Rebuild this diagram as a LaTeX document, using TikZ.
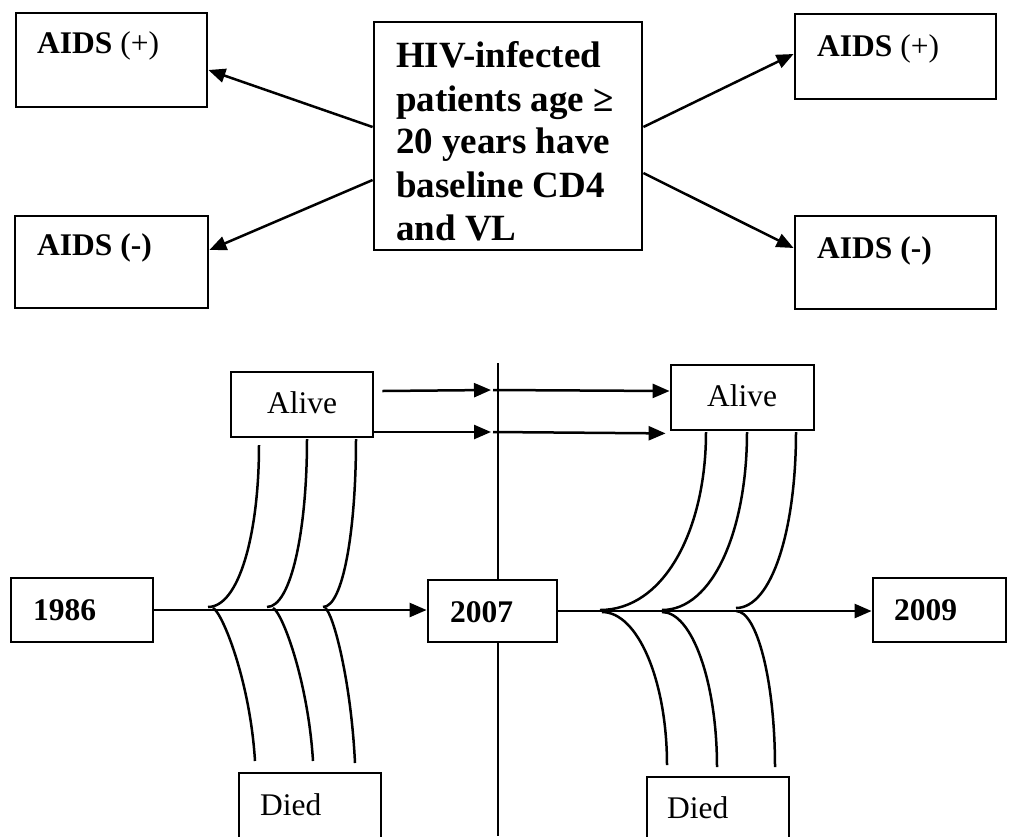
\documentclass[tikz,border=0pt]{standalone}
\usepackage{fontspec}
\setmainfont{Liberation Serif}
\usetikzlibrary{arrows.meta}
\begin{document}
\begin{tikzpicture}[x=1pt,y=-1pt,
  box/.style={draw,line width=2.8pt,fill=white,inner sep=0pt},
  lbl/.style={inner sep=0pt,font=\fontsize{31.5}{37}\selectfont},
  big/.style={inner sep=0pt,font=\fontsize{37}{44}\selectfont\bfseries},
  arr/.style={line width=2.5pt,-{Triangle[length=17pt,width=14pt]}},
  branch/.style={line width=2.5pt},
  vline/.style={line width=1.8pt}]
\useasboundingbox (0,0) rectangle (1009,836);
\clip (0,0) rectangle (1009,836);
\fill[white] (0,0) rectangle (1009,836);

% ---- top: cohort and AIDS status ----
\node[box,minimum width=268pt,minimum height=228pt] (ctr) at (508,136) {};
\foreach \t/\yy [count=\i] in {HIV-infected/67,patients age ≥/111,20 years have/153,baseline CD4/197,and VL/240}
  \node[big,anchor=base west] (ctr-\i) at (396,\yy) {\t};

\node[box,minimum width=191pt,minimum height=94pt] (lp) at (111.5,60) {};
\node[lbl,anchor=base west] (lp-t) at (37,53) {\textbf{AIDS} (+)};
\node[box,minimum width=193pt,minimum height=92pt] (lm) at (111.5,262) {};
\node[lbl,anchor=base west] (lm-t) at (37,255) {\textbf{AIDS (-)}};
\node[box,minimum width=201pt,minimum height=85pt] (rp) at (895.5,56.5) {};
\node[lbl,anchor=base west] (rp-t) at (817,56) {\textbf{AIDS} (+)};
\node[box,minimum width=201pt,minimum height=93pt] (rm) at (895.5,262.5) {};
\node[lbl,anchor=base west] (rm-t) at (817,258) {\textbf{AIDS (-)}};

\draw[arr] ([yshift=9pt]ctr.west) -- ([yshift=-10pt]lp.east);
\draw[arr] ([yshift=-44pt]ctr.west) -- ([yshift=12pt]lm.east);
\draw[arr] ([yshift=9pt]ctr.east) -- ([yshift=2.5pt]rp.west);
\draw[arr] ([yshift=-37pt]ctr.east) -- ([yshift=14.5pt]rm.west);

% ---- bottom: follow-up timeline ----
\node[box,minimum width=142pt,minimum height=65pt] (alive1) at (302,404.5) {};
\node[lbl,anchor=base] (alive1-t) at (302,413) {Alive};
\node[box,minimum width=143pt,minimum height=65pt] (alive2) at (742.5,397.5) {};
\node[lbl,anchor=base] (alive2-t) at (742,406) {Alive};

\node[box,minimum width=142pt,minimum height=64pt] (y1986) at (82,610) {};
\node[lbl,anchor=base west] (y1986-t) at (33,620) {\textbf{1986}};
\node[box,minimum width=129pt,minimum height=62pt] (y2007) at (492.5,611) {};
\node[lbl,anchor=base west] (y2007-t) at (450,622) {\textbf{2007}};
\node[box,minimum width=133pt,minimum height=64pt] (y2009) at (939.5,610) {};
\node[lbl,anchor=base west] (y2009-t) at (894,620) {\textbf{2009}};

\node[box,minimum width=142pt,minimum height=130pt] (died1) at (310,838) {};
\node[lbl,anchor=base west] (died1-t) at (260,815) {Died};
\node[box,minimum width=142pt,minimum height=130pt] (died2) at (718,842) {};
\node[lbl,anchor=base west] (died2-t) at (667,818) {Died};

% cut-off line at 2007
\coordinate (vtop) at (498,363);
\coordinate (vbot) at (498,836);
\draw[vline] (vtop) -- (vtop |- y2007.north);
\draw[vline] (vtop |- y2007.south) -- (vbot);

% survivors carried across the cut-off
\coordinate (t1) at (491,390); \coordinate (s1) at (493,390);
\coordinate (t2) at (491,432); \coordinate (s2) at (493,432);
\draw[arr] ([xshift=8pt,yshift=13.5pt]alive1.east) -- (t1);
\draw[arr] (s1) -- ([yshift=6.5pt]alive2.west);
\draw[arr] ([yshift=-27.5pt]alive1.east) -- (t2);
\draw[arr] (s2) -- ([xshift=-4pt,yshift=-2pt]alive2.south west);

% main time axis
\draw[arr] (y1986.east) -- (y1986.east -| y2007.west);
\draw[arr] (y2007.east) -- (y2007.east -| y2009.west);

% branches 1986-2007
\draw[branch] (208,607) .. controls +(31,0) and +(0,89) .. (259,445);
\draw[branch] (267,607) .. controls +(24,0) and +(0,92) .. (307,439);
\draw[branch] (323,607) .. controls +(20,0) and +(0,92) .. (356,439);
\draw[branch] (213,608) .. controls +(9,4) and +(-5,-81) .. (255,761);
\draw[branch] (273,608) .. controls +(9,4) and +(-5,-81) .. (313,761);
\draw[branch] (325,608) .. controls +(8,4) and +(-4,-83) .. (355,763);

% branches 2007-2009
\draw[branch] (600,610) .. controls +(64,0) and +(0,98) .. (706,432);
\draw[branch] (662,610) .. controls +(51,0) and +(0,98) .. (747,432);
\draw[branch] (736,608) .. controls +(36,0) and +(0,97) .. (796,432);
\draw[branch] (602,612) .. controls +(36,0) and +(0,-84) .. (667,765);
\draw[branch] (662,612) .. controls +(30,0) and +(0,-85) .. (717,767);
\draw[branch] (736,611) .. controls +(21,0) and +(0,-86) .. (775,767);
\end{tikzpicture}
\end{document}
